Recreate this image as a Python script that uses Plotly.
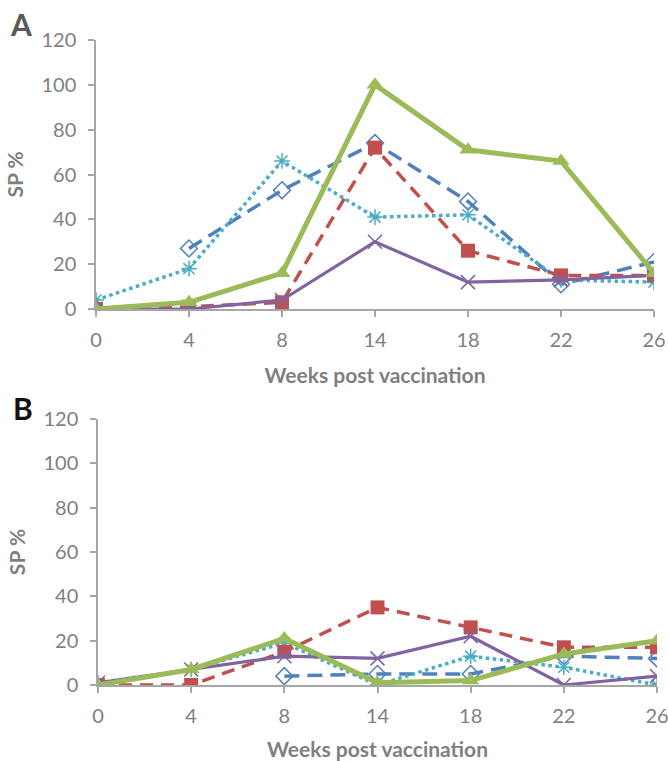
import plotly.graph_objects as go

weeks = ["0", "4", "8", "14", "18", "22", "26"]
xpos = list(range(len(weeks)))
y_ticks = [0, 20, 40, 60, 80, 100, 120]

# Panel A
a_blue = [None, 27, 53, 74, 48, 11, 21]
a_red = [0, 1, 3, 72, 26, 15, 15]
a_green = [0, 3, 16, 100, 71, 66, 16]
a_purple = [0, 0, 4, 30, 12, 13, 15]
a_cyan = [4, 18, 66, 41, 42, 13, 12]

# Panel B
b_blue = [None, None, 4, 5, 5, 13, 12]
b_red = [0, 0, 15, 35, 26, 17, 17]
b_green = [0, 7, 21, 1, 2, 14, 20]
b_purple = [1, 7, 13, 12, 22, 0, 4]
b_cyan = [1, 7, 19, 0, 13, 8, 0]

BLUE = "#4F81BD"
RED = "#C0504D"
GREEN = "#9BBB59"
PURPLE = "#8064A2"
CYAN = "#4BACC6"
GRAY = "#7F7F7F"
AXIS = "#A6A6A6"
FONT = "Lato"

fig = go.Figure()


def add_panel(blue, red, green, purple, cyan, xa, ya):
    fig.add_trace(go.Scatter(
        x=xpos, y=blue, xaxis=xa, yaxis=ya, mode="lines+markers",
        line=dict(color=BLUE, width=3.5, dash="15px,8px"),
        marker=dict(symbol="diamond-open", size=13, color=BLUE, line=dict(width=1.5)),
        showlegend=False))
    fig.add_trace(go.Scatter(
        x=xpos, y=cyan, xaxis=xa, yaxis=ya, mode="lines+markers",
        line=dict(color=CYAN, width=3.5, dash="dot"),
        marker=dict(symbol="asterisk-open", size=13, color=CYAN, line=dict(width=1.5, color=CYAN)),
        showlegend=False))
    fig.add_trace(go.Scatter(
        x=xpos, y=red, xaxis=xa, yaxis=ya, mode="lines+markers",
        line=dict(color=RED, width=3.5, dash="13px,8px"),
        marker=dict(symbol="square", size=14, color=RED),
        showlegend=False))
    fig.add_trace(go.Scatter(
        x=xpos, y=purple, xaxis=xa, yaxis=ya, mode="lines+markers",
        line=dict(color=PURPLE, width=3.2),
        marker=dict(symbol="x-thin-open", size=14, color=PURPLE, line=dict(width=1.5, color=PURPLE)),
        showlegend=False))
    fig.add_trace(go.Scatter(
        x=xpos, y=green, xaxis=xa, yaxis=ya, mode="lines+markers",
        line=dict(color=GREEN, width=5),
        marker=dict(symbol="triangle-up", size=15, color=GREEN),
        showlegend=False))


add_panel(a_blue, a_red, a_green, a_purple, a_cyan, "x", "y")
add_panel(b_blue, b_red, b_green, b_purple, b_cyan, "x2", "y2")

xcommon = dict(
    range=[0, 6], tickvals=xpos, ticktext=weeks, showgrid=False, zeroline=False,
    showline=True, linecolor=AXIS, linewidth=1.5, ticks="outside", ticklen=6,
    tickcolor=AXIS, tickwidth=1.5, tickfont=dict(family=FONT, size=20, color=GRAY),
    ticklabelstandoff=6, ticklabeloverflow="allow", automargin=False,
    title=dict(text="<b>Weeks post vaccination</b>", font=dict(family=FONT, size=21, color=GRAY), standoff=19),
)
ycommon = dict(
    range=[0, 120], tickvals=y_ticks, showgrid=False, zeroline=False,
    showline=True, linecolor=AXIS, linewidth=1.5, ticks="outside", ticklen=6,
    tickcolor=AXIS, tickwidth=1.5, tickfont=dict(family=FONT, size=20, color=GRAY),
    ticklabelstandoff=8, ticklabeloverflow="allow", automargin=False,
    title=dict(text="<b>SP %</b>", font=dict(family=FONT, size=21, color=GRAY), standoff=12),
)

FW, FH = 668, 761
L = 90.0
PW = 570.0


def fx(px):
    return (px - L) / PW


def fy(py):
    return (FH - py) / FH


fig.update_layout(
    width=FW, height=FH,
    margin=dict(l=L, r=FW - L - PW, t=0, b=0, autoexpand=False),
    paper_bgcolor="white", plot_bgcolor="white",
    xaxis=dict(xcommon, domain=[fx(96), fx(654)], anchor="y"),
    yaxis=dict(ycommon, domain=[fy(309), fy(40)], anchor="x"),
    xaxis2=dict(xcommon, domain=[fx(98), fx(657)], anchor="y2"),
    yaxis2=dict(ycommon, domain=[fy(685), fy(419)], anchor="x2"),
    annotations=[
        dict(text="<b>A</b>", x=fx(21), y=fy(24), xref="paper", yref="paper",
             xanchor="center", yanchor="middle",
             showarrow=False, font=dict(family=FONT, size=30, color="#595959")),
        dict(text="<b>B</b>", x=fx(23), y=fy(408), xref="paper", yref="paper",
             xanchor="center", yanchor="middle",
             showarrow=False, font=dict(family=FONT, size=30, color="#111111")),
    ],
)

fig.write_html(
    "out.html",
    config={"displayModeBar": False},
    post_script="document.body.style.margin='0';document.body.style.overflow='hidden';",
)
